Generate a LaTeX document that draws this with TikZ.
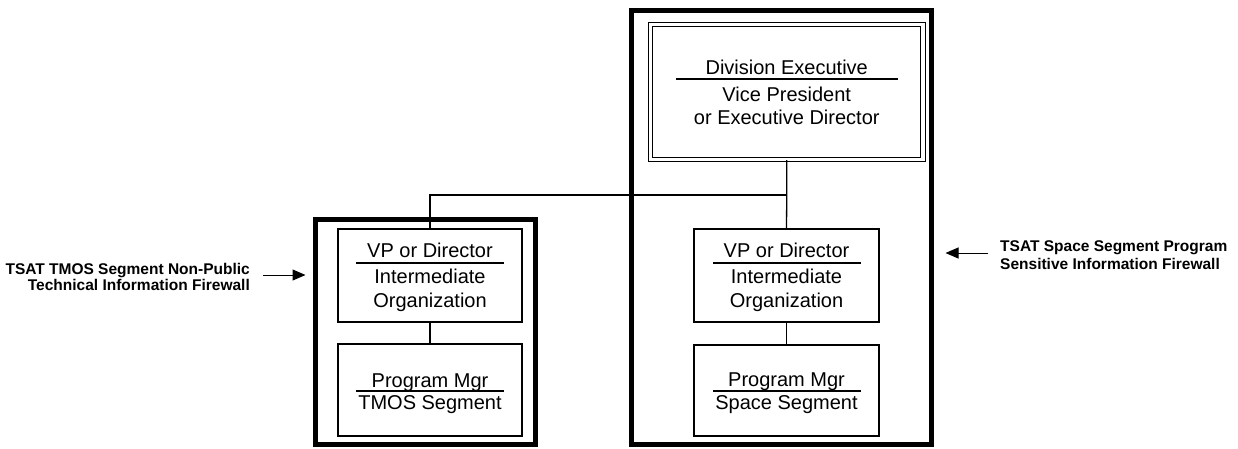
\documentclass[tikz,border=0pt]{standalone}
\usepackage{fontspec}
\setmainfont{Liberation Sans}
\usetikzlibrary{arrows.meta}
\tikzset{
  frame/.style={draw, line width=5pt, inner sep=0pt},
  orgbox/.style={draw, line width=1.3pt, inner sep=0pt, minimum width=184pt},
  execbox/.style={draw, line width=1.2pt, double, double distance=3.2pt, inner sep=0pt, minimum width=272.5pt, minimum height=135pt},
  btxt/.style={anchor=base, inner sep=0pt, font=\fontsize{20}{24}\selectfont},
  ltxt/.style={inner sep=0pt, font=\bfseries\fontsize{15.5}{16}\selectfont},
  rule/.style={line width=1.3pt},
  conn/.style={line width=1.3pt},
  arr/.style={line width=1pt, -{Triangle[length=13pt,width=11pt]}}
}
\begin{document}
\begin{tikzpicture}[x=1pt,y=-1pt]
\useasboundingbox (0,0) rectangle (1238,448);
% frames
\node[frame, minimum width=220pt, minimum height=225pt] (frameL) at (425,331.5) {};
\node[frame, minimum width=300pt, minimum height=434pt] (frameR) at (781,227) {};
% boxes
\node[execbox] (div) at (786.75,92) {};
\node[orgbox, minimum height=93pt] (vpL) at (430,275.5) {};
\node[orgbox, minimum height=92pt] (pmL) at (430,390) {};
\node[orgbox, minimum width=185pt, minimum height=93pt] (vpR) at (786.5,275.5) {};
\node[orgbox, minimum width=185pt, minimum height=91pt] (pmR) at (786.5,390.5) {};
% box texts
\node[btxt] (d1) at (786.75,74) {Division Executive};
\draw[rule] (676,79) -- (898,79);
\node[btxt] (d2) at (786.75,101) {Vice President};
\node[btxt] (d3) at (786.75,124) {or Executive Director};
\node[btxt] (vl1) at (430,257) {VP or Director};
\draw[rule] (356,263) -- (504,263);
\node[btxt] (vl2) at (430,283) {Intermediate};
\node[btxt] (vl3) at (430,307) {Organization};
\node[btxt] (pl1) at (430,387) {Program Mgr};
\draw[rule] (356,391) -- (504,391);
\node[btxt] (pl2) at (430,409) {TMOS Segment};
\node[btxt] (vr1) at (786.5,257) {VP or Director};
\draw[rule] (713,263) -- (861,263);
\node[btxt] (vr2) at (786.5,283) {Intermediate};
\node[btxt] (vr3) at (786.5,307) {Organization};
\node[btxt] (pr1) at (786.5,386) {Program Mgr};
\draw[rule] (713,391) -- (861,391);
\node[btxt] (pr2) at (786.5,409) {Space Segment};
% connectors
\coordinate (j) at (786.75,195);
\draw[conn] (div.south) -- (j) -- (vpR.north);
\draw[conn] (j) -| (vpL.north);
\draw[conn] (vpL.south) -- (pmL.north);
\draw[conn] (vpR.south) -- (pmR.north);
% labels
\node[ltxt, anchor=base east] (labL1) at (250,274) {TSAT TMOS Segment Non-Public};
\node[ltxt, anchor=base east] (labL2) at (250,290) {Technical Information Firewall};
\node[ltxt, anchor=base west] (labR1) at (1000,251) {TSAT Space Segment Program};
\node[ltxt, anchor=base west] (labR2) at (1000,269) {Sensitive Information Firewall};
\coordinate (aL) at (263,275);
\coordinate (aR) at (988,253);
\draw[arr, shorten >=7pt] (aL) -- (aL -| frameL.west);
\draw[arr, shorten >=12pt] (aR) -- (aR -| frameR.east);
\end{tikzpicture}
\end{document}
